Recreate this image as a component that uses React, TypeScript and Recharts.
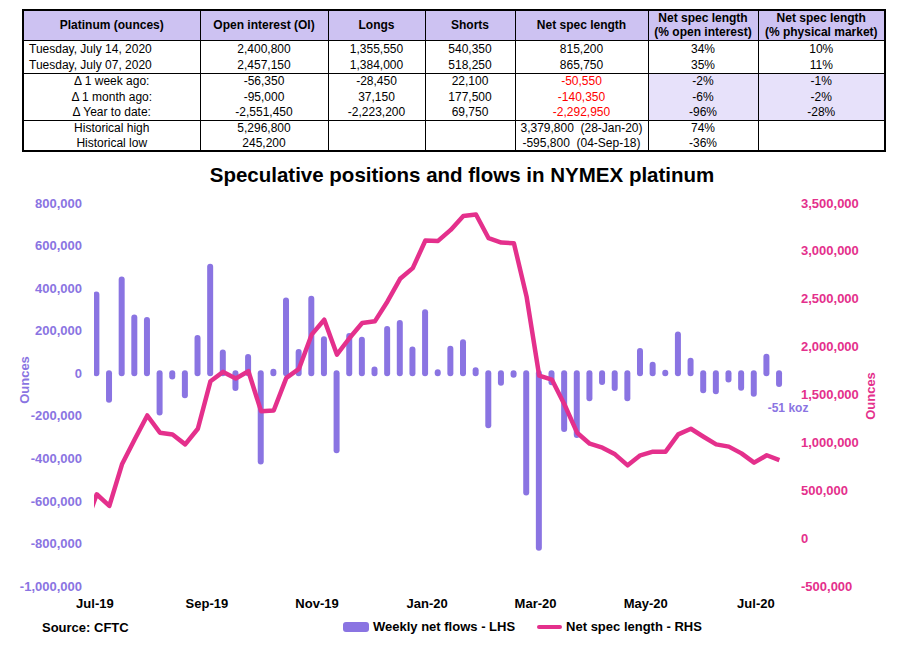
import { Bar, ComposedChart, LabelList, Line, XAxis, YAxis } from "recharts";

const FONT = '"Liberation Sans", Arial, Helvetica, sans-serif';
const PURPLE = "#8A74E2";
const PINK = "#E4308C";
const HEADER_BG = "#CDC2F2";
const HIGHLIGHT_BG = "#E7E1FA";

// CFTC report dates (Tuesdays). The first one only feeds the line and sits left of the axis.
const REPORT_DATES = [
  "2019-06-25", "2019-07-02", "2019-07-09", "2019-07-16", "2019-07-23", "2019-07-30",
  "2019-08-06", "2019-08-13", "2019-08-20", "2019-08-27", "2019-09-03", "2019-09-10",
  "2019-09-17", "2019-09-24", "2019-10-01", "2019-10-08", "2019-10-15", "2019-10-22",
  "2019-10-29", "2019-11-05", "2019-11-12", "2019-11-19", "2019-11-26", "2019-12-03",
  "2019-12-10", "2019-12-17", "2019-12-24", "2019-12-31", "2020-01-07", "2020-01-14",
  "2020-01-21", "2020-01-28", "2020-02-04", "2020-02-11", "2020-02-18", "2020-02-25",
  "2020-03-03", "2020-03-10", "2020-03-17", "2020-03-24", "2020-03-31", "2020-04-07",
  "2020-04-14", "2020-04-21", "2020-04-28", "2020-05-05", "2020-05-12", "2020-05-19",
  "2020-05-26", "2020-06-02", "2020-06-09", "2020-06-16", "2020-06-23", "2020-06-30",
  "2020-07-07", "2020-07-14",
];

// weekly net flows, ounces (LHS)
const WEEKLY_FLOWS: (number | null)[] = [
  null, 370000, -125000, 440000, 262000, 250000, -185000, -15000, -104000, 165000,
  500000, 97000, -70000, 76000, -415000, 7000, 342000, 100000, 350000, 160000,
  -362000, 175000, 157000, 18000, 208000, 236000, 112000, 286000, 4000, 115000,
  146000, 14000, -245000, -45000, -7000, -560000, -820000, -42000, -262000, -290000,
  -118000, -41000, -70000, -118000, 105000, 40000, 2000, 182000, 59000, -80000,
  -85000, -30000, -68000, -97000, 78000, -50550,
];

// net spec length, ounces (RHS)
const NET_SPEC_LENGTH = [
  88000, 458000, 336000, 771000, 1031000, 1281000, 1101000, 1083000, 979000, 1142000,
  1639000, 1736000, 1667000, 1743000, 1326000, 1333000, 1674000, 1768000, 2125000, 2281000,
  1917000, 2090000, 2247000, 2264000, 2472000, 2708000, 2820000, 3108000, 3104000, 3219000,
  3365000, 3379800, 3132000, 3087000, 3080000, 2524000, 1698000, 1656000, 1396000, 1101000,
  986000, 945000, 875000, 760000, 865000, 903000, 903000, 1083000, 1142000, 1059000,
  979000, 955550, 885000, 788000, 865750, 815200,
];

const TICK_DATES = ["2019-07-01", "2019-09-01", "2019-11-01", "2020-01-01", "2020-03-01", "2020-05-01", "2020-07-01"];
const TICK_LABELS = ["Jul-19", "Sep-19", "Nov-19", "Jan-20", "Mar-20", "May-20", "Jul-20"];
const LEFT_TICKS = [-1000000, -800000, -600000, -400000, -200000, 0, 200000, 400000, 600000, 800000];
const RIGHT_TICKS = [-500000, 0, 500000, 1000000, 1500000, 2000000, 2500000, 3000000, 3500000];
const X_START = "2019-06-30T12:00:00Z";
const X_END = "2020-07-17T16:00:00Z";

const TABLE_HEAD = [
  "Platinum (ounces)",
  "Open interest (OI)",
  "Longs",
  "Shorts",
  "Net spec length",
  "Net spec length\n(% open interest)",
  "Net spec length\n(% physical market)",
];
const TABLE_LATEST = [
  ["Tuesday, July 14, 2020", "2,400,800", "1,355,550", "540,350", "815,200", "34%", "10%"],
  ["Tuesday, July 07, 2020", "2,457,150", "1,384,000", "518,250", "865,750", "35%", "11%"],
];
const TABLE_CHANGES = [
  ["Δ 1 week ago:", "-56,350", "-28,450", "22,100", "-50,550", "-2%", "-1%"],
  ["Δ 1 month ago:", "-95,000", "37,150", "177,500", "-140,350", "-6%", "-2%"],
  ["Δ Year to date:", "-2,551,450", "-2,223,200", "69,750", "-2,292,950", "-96%", "-28%"],
];
const TABLE_EXTREMES = [
  ["Historical high", "5,296,800", "", "", "3,379,800  (28-Jan-20)", "74%", ""],
  ["Historical low", "245,200", "", "", "-595,800  (04-Sep-18)", "-36%", ""],
];
const COL_WIDTHS = [177, 128, 97, 90, 133, 110, 127];

const toTime = (d: string) => Date.parse(d + "T00:00:00Z");

const chartData = REPORT_DATES.map((d, i) => ({
  t: toTime(d),
  flow: WEEKLY_FLOWS[i],
  netSpec: NET_SPEC_LENGTH[i],
}));

const fmt = (v: number) => v.toLocaleString("en-US");

function FlowBar(props: any) {
  const { x, y, width, height, payload } = props;
  if (payload?.flow == null || typeof x !== "number" || typeof y !== "number") return null;
  const cx = x + width / 2;
  return (
    <line
      x1={cx}
      x2={cx}
      y1={y}
      y2={y + (height || 0)}
      stroke={PURPLE}
      strokeWidth={6}
      strokeLinecap="round"
    />
  );
}

function LastFlowLabel(props: any) {
  const { x, y, width, height, value } = props;
  if (value !== WEEKLY_FLOWS[WEEKLY_FLOWS.length - 1]) return null;
  const bottom = Math.max(y, y + height);
  return (
    <text
      x={x + width / 2 + 9}
      y={bottom + 28}
      textAnchor="middle"
      fill={PURPLE}
      fontSize={12}
      fontWeight="bold"
      fontFamily={FONT}
    >
      {`${Math.round(value / 1000)} koz`}
    </text>
  );
}

const cellBase: React.CSSProperties = {
  padding: 0,
  borderLeft: "1px solid #000",
  borderRight: "1px solid #000",
  textAlign: "center",
  whiteSpace: "pre",
  fontSize: 12,
  lineHeight: "14px",
  color: "#000",
};

function SummaryTable() {
  const renderRow = (row: string[], key: string, h: number, first: boolean, kind: string) => (
    <tr key={key} style={{ height: h }}>
      {row.map((cell, c) => {
        const style: React.CSSProperties = { ...cellBase };
        if (first) style.borderTop = "1px solid #000";
        if (kind === "latest" && c === 0) {
          style.textAlign = "left";
          style.paddingLeft = 5;
        }
        if (kind === "changes" && c === 4) style.color = "#FF0000";
        if (kind === "changes" && c >= 5) style.background = HIGHLIGHT_BG;
        return (
          <td key={c} style={style}>
            {cell}
          </td>
        );
      })}
    </tr>
  );

  return (
    <table
      style={{
        position: "absolute",
        left: 22,
        top: 9,
        borderCollapse: "collapse",
        tableLayout: "fixed",
        width: 864,
        border: "2px solid #000",
        fontFamily: FONT,
      }}
    >
      <colgroup>
        {COL_WIDTHS.map((w, i) => (
          <col key={i} style={{ width: w }} />
        ))}
      </colgroup>
      <tbody>
        <tr style={{ height: 30 }}>
          {TABLE_HEAD.map((h, i) => (
            <td key={i} style={{ ...cellBase, fontWeight: "bold", background: HEADER_BG }}>
              {h}
            </td>
          ))}
        </tr>
        {TABLE_LATEST.map((r, i) => renderRow(r, "l" + i, 16.5, i === 0, "latest"))}
        {TABLE_CHANGES.map((r, i) => renderRow(r, "c" + i, 15.8, i === 0, "changes"))}
        {TABLE_EXTREMES.map((r, i) => renderRow(r, "e" + i, 15.5, i === 0, "extremes"))}
      </tbody>
    </table>
  );
}

export default function App() {
  return (
    <div
      style={{
        position: "absolute",
        left: 0,
        top: 0,
        width: 897,
        height: 651,
        background: "#fff",
        fontFamily: FONT,
      }}
    >
      <ComposedChart
        width={897}
        height={651}
        data={chartData}
        margin={{ top: 203, right: 0, bottom: 0, left: 0 }}
      >
        <XAxis
          dataKey="t"
          type="number"
          scale="linear"
          domain={[Date.parse(X_START), Date.parse(X_END)]}
          allowDataOverflow
          ticks={TICK_DATES.map(toTime)}
          interval={0}
          tickFormatter={(v: number) => TICK_LABELS[TICK_DATES.map(toTime).indexOf(v)] ?? ""}
          tick={{ fontSize: 13, fontWeight: "bold", fill: "#000", fontFamily: FONT }}
          tickLine={false}
          axisLine={false}
          tickMargin={7}
          height={65}
        />
        <YAxis
          yAxisId="left"
          orientation="left"
          domain={[-1000000, 800000]}
          ticks={LEFT_TICKS}
          interval={0}
          tickFormatter={fmt}
          tick={{ fontSize: 13, fontWeight: "bold", fill: PURPLE, fontFamily: FONT }}
          tickLine={false}
          axisLine={false}
          tickMargin={6}
          width={94}
          label={{
            content: () => (
              <text
                x={24}
                y={380}
                transform="rotate(-90 24 380)"
                textAnchor="middle"
                dominantBaseline="central"
                fill={PURPLE}
                fontSize={13}
                fontWeight="bold"
                fontFamily={FONT}
              >
                Ounces
              </text>
            ),
          }}
        />
        <YAxis
          yAxisId="right"
          orientation="right"
          domain={[-500000, 3500000]}
          ticks={RIGHT_TICKS}
          interval={0}
          tickFormatter={fmt}
          tick={{ fontSize: 13, fontWeight: "bold", fill: PINK, fontFamily: FONT }}
          tickLine={false}
          axisLine={false}
          tickMargin={9}
          width={111}
          label={{
            content: () => (
              <text
                x={870}
                y={396}
                transform="rotate(-90 870 396)"
                textAnchor="middle"
                dominantBaseline="central"
                fill={PINK}
                fontSize={13}
                fontWeight="bold"
                fontFamily={FONT}
              >
                Ounces
              </text>
            ),
          }}
        />
        <Bar
          yAxisId="left"
          dataKey="flow"
          barSize={6}
          fill={PURPLE}
          shape={FlowBar}
          isAnimationActive={false}
        >
          <LabelList dataKey="flow" content={LastFlowLabel} />
        </Bar>
        <Line
          yAxisId="right"
          type="linear"
          dataKey="netSpec"
          stroke={PINK}
          strokeWidth={4.5}
          strokeLinejoin="round"
          dot={false}
          activeDot={false}
          isAnimationActive={false}
        />
      </ComposedChart>

      <SummaryTable />

      <div
        style={{
          position: "absolute",
          left: 0,
          width: 924,
          top: 163,
          textAlign: "center",
          fontSize: 20.5,
          lineHeight: "24px",
          fontWeight: "bold",
          color: "#000",
        }}
      >
        Speculative positions and flows in NYMEX platinum
      </div>

      <div
        style={{
          position: "absolute",
          left: 42,
          top: 620,
          fontSize: 13,
          lineHeight: "16px",
          fontWeight: "bold",
          color: "#000",
        }}
      >
        Source: CFTC
      </div>

      <div
        style={{
          position: "absolute",
          left: 343,
          top: 619,
          display: "flex",
          alignItems: "center",
          fontSize: 13,
          lineHeight: "16px",
          fontWeight: "bold",
          color: "#000",
        }}
      >
        <span style={{ width: 26, height: 10, borderRadius: 3, background: PURPLE, marginRight: 4 }} />
        <span>Weekly net flows - LHS</span>
        <span
          style={{ width: 25, height: 4, borderRadius: 2, background: PINK, marginLeft: 22, marginRight: 4 }}
        />
        <span>Net spec length - RHS</span>
      </div>
    </div>
  );
}
